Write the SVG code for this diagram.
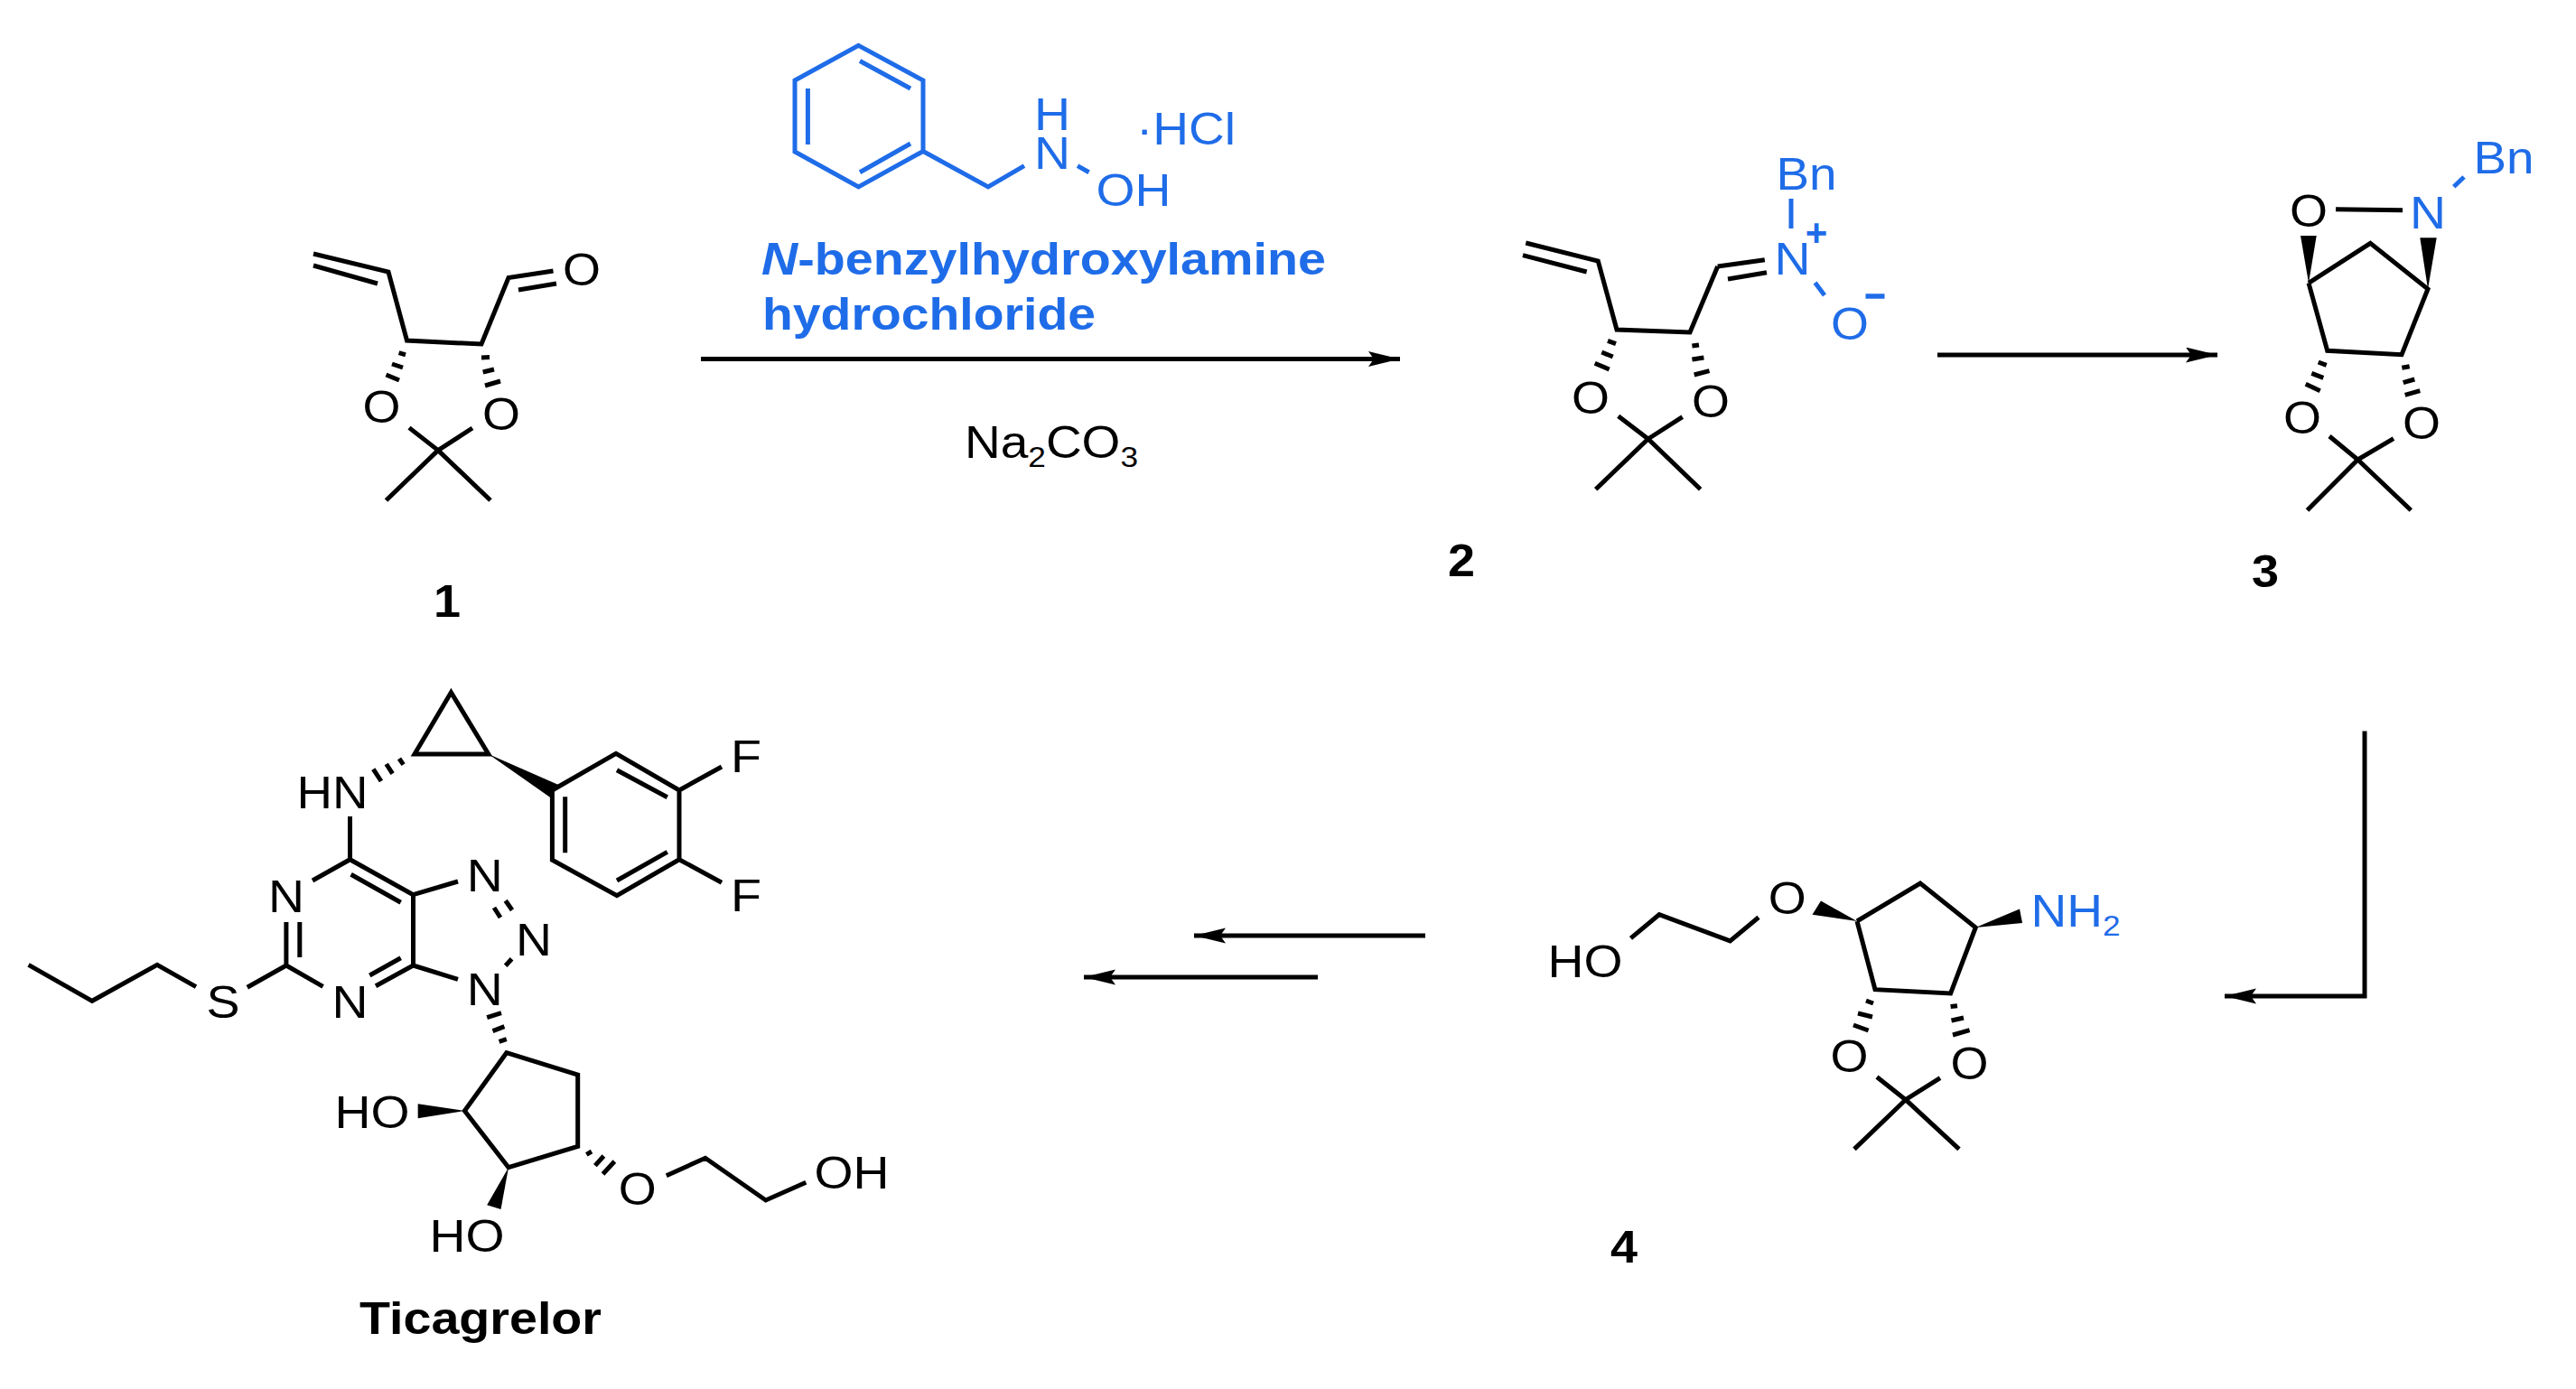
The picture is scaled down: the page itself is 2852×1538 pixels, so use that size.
<svg xmlns="http://www.w3.org/2000/svg" width="2852" height="1538" viewBox="0 0 2852 1538">
<style>
text{font-family:"Liberation Sans",Arial,sans-serif;font-size:50px;fill:#000;text-anchor:middle}
text.b{font-weight:700}
text.l{text-anchor:start}
.blue{fill:#1f6ce8}
.k{fill:none;stroke:#000;stroke-width:5;stroke-linecap:butt;stroke-linejoin:miter}
.u{fill:none;stroke:#1f6ce8;stroke-width:5}
.w{fill:#000;stroke:none}
.a{fill:none;stroke:#000;stroke-width:5}
tspan.s{font-size:32px}
</style>
<defs>
<marker id="h" markerUnits="userSpaceOnUse" markerWidth="36" markerHeight="18" refX="35" refY="8.5" orient="auto"><path d="M35,8.5L0,0L6,8.5L0,17Z" fill="#000"/></marker>
</defs>
<rect width="2852" height="1538" fill="#fff"/>
<g id="connectors">
<path class="a" d="M776,397.5H1550" marker-end="url(#h)"/>
<path class="a" d="M2145,393H2455" marker-end="url(#h)"/>
<path class="a" d="M2618,809.5V1103H2463" marker-end="url(#h)"/>
<path class="a" d="M1578,1036H1322" marker-end="url(#h)"/>
<path class="a" d="M1459,1082H1200" marker-end="url(#h)"/>
</g>
<g id="reagent">
<path class="u" d="M950.5,50.4L1022,89V167.5L950.5,207L880,168V89ZM952,67.5L1008,98M894.4,98V160M952,190.7L1008,159M1022,167.5L1094,207L1134,183.6M1193,183.6L1205.6,190.7"/>
<text class="blue" x="1165" y="144" textLength="40" lengthAdjust="spacingAndGlyphs">H</text>
<text class="blue" x="1165" y="187" textLength="40" lengthAdjust="spacingAndGlyphs">N</text>
<text class="blue" x="1255" y="228" textLength="83" lengthAdjust="spacingAndGlyphs">OH</text>
<text class="blue" x="1313" y="160" textLength="110" lengthAdjust="spacingAndGlyphs">·HCl</text>
<text class="b blue l" x="843" y="304" textLength="625" lengthAdjust="spacingAndGlyphs"><tspan font-style="italic">N</tspan>-benzylhydroxylamine</text>
<text class="b blue l" x="844" y="365" textLength="369" lengthAdjust="spacingAndGlyphs">hydrochloride</text>
<text class="l" x="1068" y="507" textLength="192" lengthAdjust="spacingAndGlyphs">Na<tspan class="s" dy="10">2</tspan><tspan dy="-10">CO</tspan><tspan class="s" dy="10">3</tspan></text>
</g>
<g id="compound-1">
<path class="k" d="M347,281L430,301L450.5,377L533,381L563,307.5L612.5,300M347,294L418,314M574,321L616,314M485,498.6L453,473.6M485,498.6L523,474M485,498.6L427.5,554M485,498.6L543,554M441.6,390.7L449,392.9M434,403L446,407M427.5,415L442,421M533,396L542,395.5M534.7,412L547,409M537,427L554,422"/>
<text x="644" y="316" textLength="42" lengthAdjust="spacingAndGlyphs">O</text>
<text x="422.4" y="468" textLength="42" lengthAdjust="spacingAndGlyphs">O</text>
<text x="555" y="475.5" textLength="42" lengthAdjust="spacingAndGlyphs">O</text>
<text class="b" x="495" y="683" textLength="30" lengthAdjust="spacingAndGlyphs">1</text>
</g>
<g id="compound-2">
<path class="k" d="M1689.3,269L1769.3,289L1790,365L1871,368L1901.7,295M1686,282.7L1756.7,301M1824.7,486L1791.7,460.7M1824.7,486L1862.7,461.7M1824.7,486L1766.7,541.7M1824.7,486L1882.6,541.7M1780,377.3L1789,380.7M1773.3,390L1785.7,395M1765.7,402.3L1781.7,409M1873.4,383L1881,382M1873.4,398L1886.4,396M1875.7,415L1892.5,410.7"/>
<path class="u" d="M1983,220V253M2009.6,313L2020,327"/>
<path class="k" d="M1901.7,295L1953.8,287.7M1913,309L1956,301.7"/>
<text x="1761" y="457.5" textLength="42" lengthAdjust="spacingAndGlyphs">O</text>
<text x="1894" y="462" textLength="42" lengthAdjust="spacingAndGlyphs">O</text>
<text class="blue" x="1984.4" y="303.7" textLength="40" lengthAdjust="spacingAndGlyphs">N</text>
<text class="blue" x="2000" y="209.7" textLength="67" lengthAdjust="spacingAndGlyphs">Bn</text>
<text class="blue" x="2048" y="375.7" textLength="42" lengthAdjust="spacingAndGlyphs">O</text>
<text class="b blue" x="2011" y="272" style="font-size:42px">+</text>
<path class="u" style="stroke-width:5.5" d="M2065.5,328H2086.5"/>
<text class="b" x="1618" y="638" textLength="30" lengthAdjust="spacingAndGlyphs">2</text>
</g>
<g id="compound-3">
<path class="k" d="M2556,313.3L2624.3,269.3L2688,320L2659,392.7L2576.7,388.3L2556,313.3M2586,231.7L2660,232.7M2610.4,509L2579,483M2610.4,509L2650,485.7M2610.4,509L2554.5,565M2610.4,509L2669.3,565M2566.7,401L2575.7,404.3M2559.3,413.3L2572.3,418.3M2552.7,425.3L2568.7,432.7M2659.3,407.3L2667.7,405.7M2660.7,423.7L2673.3,420M2662.7,437.3L2679.3,432.7"/>
<path class="u" d="M2728,196L2716.7,206.7"/>
<polygon class="w" points="2556,313.3 2547,261 2564.7,261"/>
<polygon class="w" points="2688,320 2679.3,263.3 2697.7,263.3"/>
<text x="2556" y="250.7" textLength="42" lengthAdjust="spacingAndGlyphs">O</text>
<text class="blue" x="2688" y="253" textLength="40" lengthAdjust="spacingAndGlyphs">N</text>
<text class="blue" x="2772" y="191.7" textLength="67" lengthAdjust="spacingAndGlyphs">Bn</text>
<text x="2549" y="479.7" textLength="42" lengthAdjust="spacingAndGlyphs">O</text>
<text x="2681" y="486.3" textLength="42" lengthAdjust="spacingAndGlyphs">O</text>
<text class="b" x="2508" y="650" textLength="30" lengthAdjust="spacingAndGlyphs">3</text>
</g>
<g id="compound-4">
<path class="k" d="M2056,1020L2126,978L2187.3,1027L2159.6,1100L2076,1095.7L2056,1020M1947,1015.7L1915.5,1041.8L1837,1012.7L1805.5,1038.8M2109.8,1217.7L2078,1192.5M2109.8,1217.7L2148,1193.7M2109.8,1217.7L2053,1272.4M2109.8,1217.7L2169,1272.4M2066,1108L2074,1111M2057,1122L2073,1126M2052,1135L2068.6,1141M2159.6,1114.6L2167,1113.7M2160.5,1130L2174,1127M2162,1146L2180.6,1140.7"/>
<polygon class="w" points="2056,1020 2006.5,1012.7 2016,997.6"/>
<polygon class="w" points="2187.3,1027 2239,1022 2236,1006.4"/>
<text x="1978.7" y="1011.8" textLength="42" lengthAdjust="spacingAndGlyphs">O</text>
<text x="1755" y="1082" textLength="83" lengthAdjust="spacingAndGlyphs">HO</text>
<text class="blue" x="2298" y="1026" textLength="99" lengthAdjust="spacingAndGlyphs">NH<tspan class="s" dy="10">2</tspan></text>
<text x="2047.6" y="1187" textLength="42" lengthAdjust="spacingAndGlyphs">O</text>
<text x="2180.6" y="1195" textLength="42" lengthAdjust="spacingAndGlyphs">O</text>
<text class="b" x="1798" y="1398" textLength="30" lengthAdjust="spacingAndGlyphs">4</text>
</g>
<g id="ticagrelor">
<path class="k" d="M499.4,766.7L459,835H540.8ZM442,840L446.6,846.7M427.7,846L434.6,856.7M413.3,851.7L422,865M387.5,904V951.7M611.4,875L682,834.3L752,875V951.7L683,991.7L611.4,952.3ZM625.7,882.3V944.3M683,852.7L738.8,882.7M683,975L738.8,943.3M752,875L799,849M752,951.7L799,977.3M346,975L387.5,951.7L457.5,990.7V1069L416,1091.7M388.6,968.3L443.7,999.3M443.7,1060.7L409.3,1080M357.6,1092.3L316.9,1069V1021M331.8,1021V1060M316.9,1069L273.8,1093.3M217,1092.7L174,1068.3L102,1108.3L31.6,1068.3M457.5,990.7L507,976M559.7,997.3L567,1007.7M547,1005L554,1016M566.6,1061.7L559.7,1069.3M457.5,1069L507,1084.3M539.2,1126.7L555,1121.7M545.5,1141.7L558.4,1136.7M552.6,1153.3L560.8,1150.7M560.8,1165.7L639.7,1190V1269.3L563,1292.7L514.4,1230ZM649.3,1278.3L655,1275M658.9,1290.7L668.4,1280M667.5,1300L680.4,1286M737.8,1301.7L780.9,1282.3L847.8,1329L892.3,1309.3"/>
<polygon class="w" points="540.8,835 618.8,869.3 609.6,883.3"/>
<polygon class="w" points="514.4,1230 462.7,1222.3 462.7,1238.3"/>
<polygon class="w" points="563,1292.7 539.2,1334.3 554.5,1339"/>
<text x="368" y="895" textLength="79" lengthAdjust="spacingAndGlyphs">HN</text>
<text x="826" y="855" textLength="34" lengthAdjust="spacingAndGlyphs">F</text>
<text x="826" y="1009" textLength="34" lengthAdjust="spacingAndGlyphs">F</text>
<text x="316.9" y="1010" textLength="40" lengthAdjust="spacingAndGlyphs">N</text>
<text x="387.5" y="1126.7" textLength="40" lengthAdjust="spacingAndGlyphs">N</text>
<text x="247" y="1126.7" textLength="37" lengthAdjust="spacingAndGlyphs">S</text>
<text x="536.7" y="986.7" textLength="40" lengthAdjust="spacingAndGlyphs">N</text>
<text x="591" y="1057.7" textLength="40" lengthAdjust="spacingAndGlyphs">N</text>
<text x="536.7" y="1113.3" textLength="40" lengthAdjust="spacingAndGlyphs">N</text>
<text x="412" y="1249" textLength="83" lengthAdjust="spacingAndGlyphs">HO</text>
<text x="517" y="1386" textLength="83" lengthAdjust="spacingAndGlyphs">HO</text>
<text x="705.7" y="1334" textLength="42" lengthAdjust="spacingAndGlyphs">O</text>
<text x="943" y="1316" textLength="83" lengthAdjust="spacingAndGlyphs">OH</text>
<text class="b" x="532" y="1476.7" textLength="268" lengthAdjust="spacingAndGlyphs">Ticagrelor</text>
</g>
</svg>
